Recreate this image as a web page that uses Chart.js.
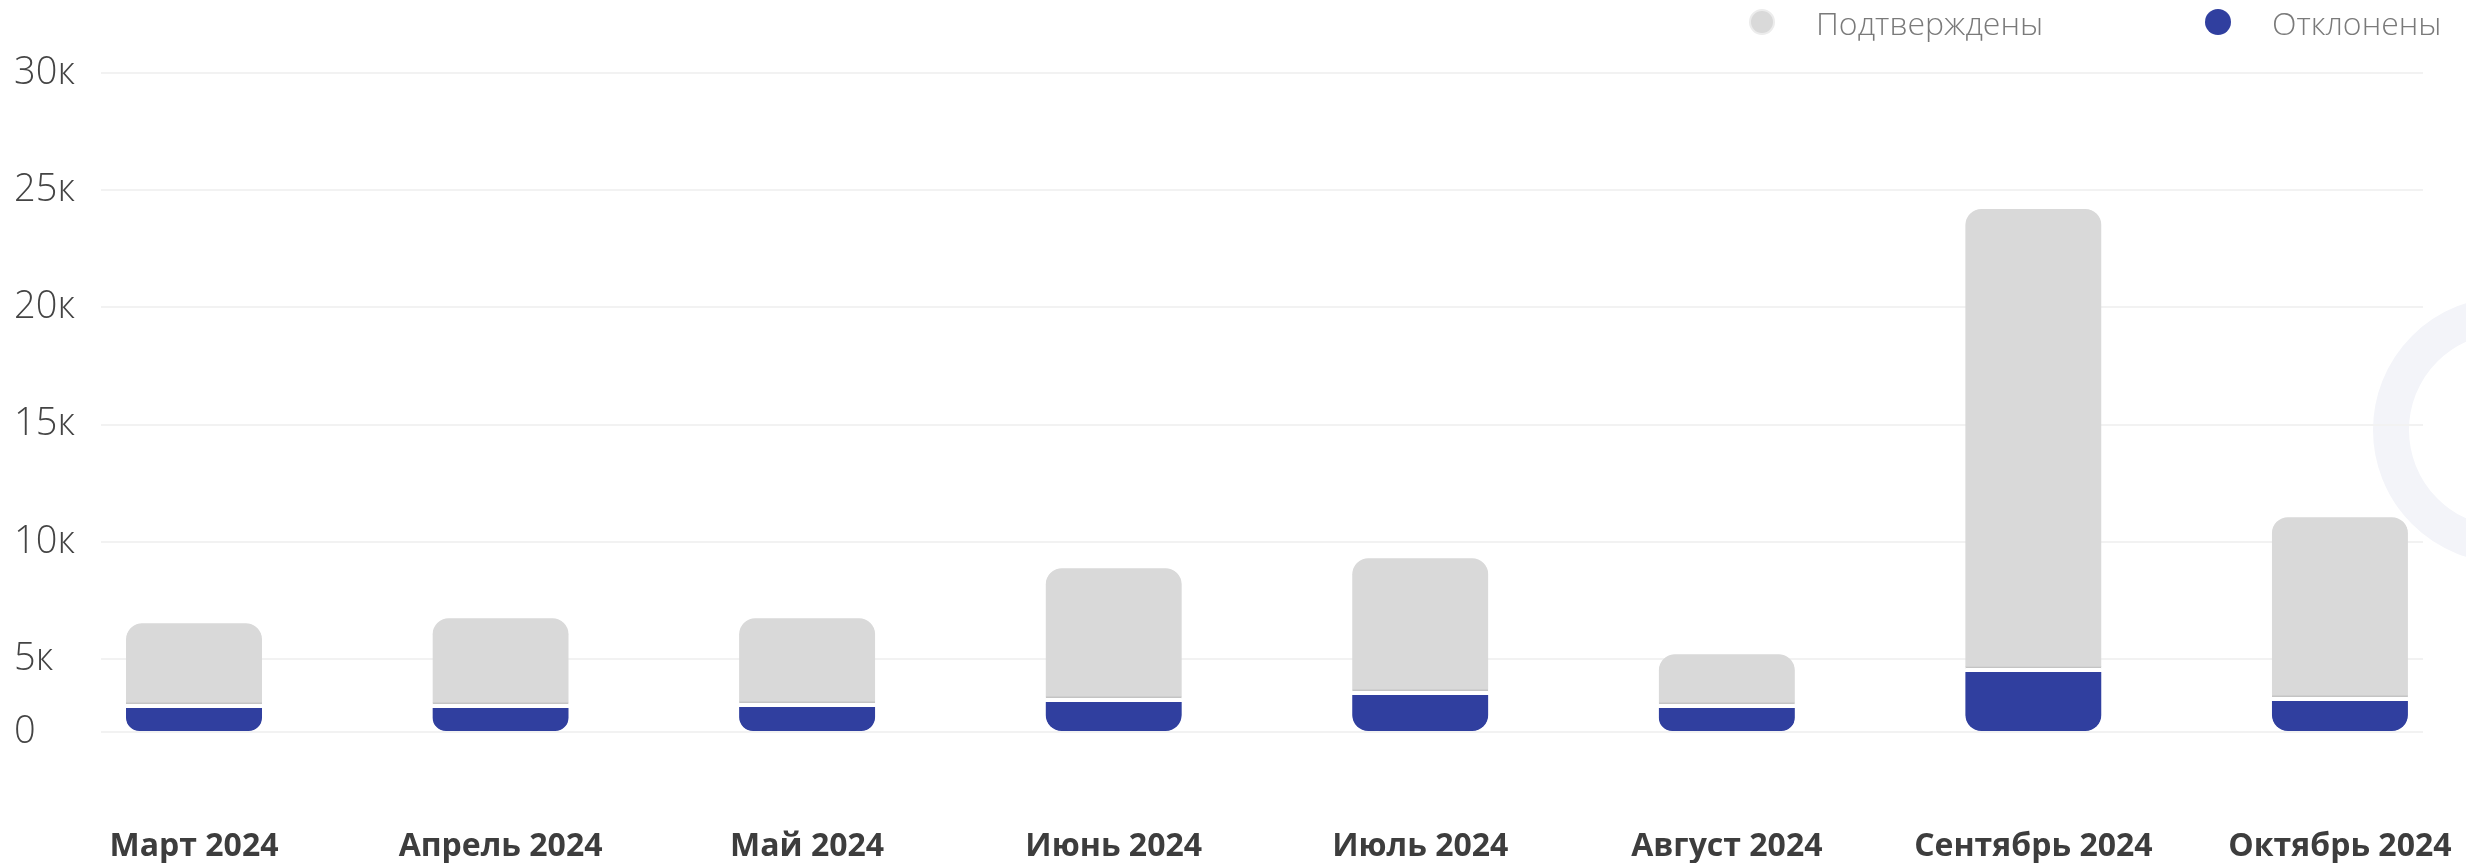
<!DOCTYPE html>
<html>
<head>
<meta charset="utf-8">
<title>Подтверждены / Отклонены</title>
<script src="https://cdn.jsdelivr.net/npm/chart.js@4.4.1/dist/chart.umd.min.js"></script>
<style>
	html, body { margin: 0; padding: 0; background: #fff; }
	#wrap { position: relative; width: 2466px; height: 863px; overflow: hidden; }
	#ring {
		position: absolute; left: 2373px; top: 297px;
		width: 194px; height: 194px;
		border: 36px solid #f3f4f9; border-radius: 50%;
	}
	#chart { position: absolute; left: 0; top: 0; }
	.lg-item {
		position: absolute; top: 0; height: 44px;
		display: flex; align-items: center;
		font: 300 32px "Open Sans", sans-serif; color: #7a7a7a;
	}
	.lg-dot { width: 26px; height: 26px; border-radius: 50%; margin-right: 41px; box-sizing: border-box; }
</style>
</head>
<body>
<div id="wrap">
	<div id="ring"></div>
	<canvas id="chart" width="2466" height="863"></canvas>
	<div id="legend"></div>
</div>
<script>
	// data
	const months = ['Март 2024', 'Апрель 2024', 'Май 2024', 'Июнь 2024', 'Июль 2024', 'Август 2024', 'Сентябрь 2024', 'Октябрь 2024'];
	const confirmed = [4620, 4840, 4770, 6560, 6510, 3300, 19840, 8670];
	const rejected = [1900, 1900, 1970, 2310, 2790, 1900, 4360, 2380];
	const yTicks = [0, 5000, 10000, 15000, 20000, 25000, 30000];
	const yTickLabels = ['0', '5к', '10к', '15к', '20к', '25к', '30к'];

	const seriesNames = ['Подтверждены', 'Отклонены'];
	const seriesColors = ['#d9d9d9', '#303f9f'];

	// the axis in the picture gives the 0..5k band less room than the others
	const SPLIT_VALUE = 5000;
	const SPLIT_FRAC = 0.1108;

	class SplitScale extends Chart.LinearScale {
		getPixelForValue(value) {
			let dec;
			if (value <= SPLIT_VALUE) {
				dec = (value - this.min) / (SPLIT_VALUE - this.min) * SPLIT_FRAC;
			} else {
				dec = SPLIT_FRAC + (value - SPLIT_VALUE) / (this.max - SPLIT_VALUE) * (1 - SPLIT_FRAC);
			}
			return this.getPixelForDecimal(dec);
		}
		getValueForPixel(pixel) {
			const dec = this.getDecimalForPixel(pixel);
			if (dec <= SPLIT_FRAC) return this.min + dec / SPLIT_FRAC * (SPLIT_VALUE - this.min);
			return SPLIT_VALUE + (dec - SPLIT_FRAC) / (1 - SPLIT_FRAC) * (this.max - SPLIT_VALUE);
		}
	}
	SplitScale.id = 'split';
	SplitScale.defaults = Chart.LinearScale.defaults;
	Chart.register(SplitScale);

	// legend (html, like the original widget)
	const legendPos = [1749, 2205];
	const legend = document.getElementById('legend');
	seriesNames.forEach((name, i) => {
		const item = document.createElement('div');
		item.className = 'lg-item';
		item.style.left = legendPos[i] + 'px';
		const dot = document.createElement('span');
		dot.className = 'lg-dot';
		dot.style.background = seriesColors[i];
		if (i === 0) dot.style.border = '2px solid #ececec';
		item.appendChild(dot);
		item.appendChild(document.createTextNode(name));
		legend.appendChild(item);
	});

	function toPoints(values) {
		return values.map((v, i) => ({ x: i, y: v }));
	}

	let ctx = document.getElementById('chart').getContext('2d');

	let chart = new Chart(ctx, {
		type: 'bar',
		data: {
			datasets: [{
				label: seriesNames[1],
				data: toPoints(rejected),
				backgroundColor: seriesColors[1],
				borderColor: '#ffffff',
				borderWidth: { top: 4, right: 0, bottom: 0, left: 0 },
				borderSkipped: false,
				borderRadius: { topLeft: 0, topRight: 0, bottomLeft: 16, bottomRight: 16 },
				barThickness: 136,
			}, {
				label: seriesNames[0],
				data: toPoints(confirmed),
				backgroundColor: seriesColors[0],
				borderColor: '#c4c4c4',
				borderWidth: { top: 0, right: 0, bottom: 2, left: 0 },
				borderSkipped: false,
				borderRadius: { topLeft: 16, topRight: 16, bottomLeft: 0, bottomRight: 0 },
				barThickness: 136,
			}]
		},
		options: {
			animation: false,
			responsive: false,
			devicePixelRatio: 1,
			layout: {
				padding: { top: 73, right: 43, bottom: 0, left: 14 }
			},
			plugins: {
				legend: { display: false },
				tooltip: { enabled: false },
			},
			scales: {
				x: {
					type: 'linear',
					min: -0.3034,
					max: 7.271,
					offset: false,
					stacked: true,
					grid: { display: false, offset: false, drawTicks: true, tickLength: 99 },
					border: { display: false },
					ticks: {
						stepSize: 1,
						includeBounds: false,
						autoSkip: false,
						maxRotation: 0,
						padding: 0,
						color: '#3d3d3d',
						font: { family: 'Open Sans', weight: 'bold', size: 32, lineHeight: 1 },
						callback: (v) => months[v],
					}
				},
				y: {
					type: 'split',
					min: 0,
					max: 30000,
					stacked: true,
					afterBuildTicks: (scale) => {
						scale.ticks = yTicks.map(v => ({ value: v }));
					},
					afterFit: (scale) => {
						scale.width = 87;
					},
					grid: { color: '#f2f2f2', lineWidth: 2, drawTicks: false },
					border: { display: false },
					ticks: {
						crossAlign: 'far',
						padding: 0,
						color: '#444444',
						font: { family: 'Open Sans', weight: '300', size: 38 },
						callback: (v, i) => yTickLabels[i],
					}
				}
			}
		}
	});
</script>
</body>
</html>
